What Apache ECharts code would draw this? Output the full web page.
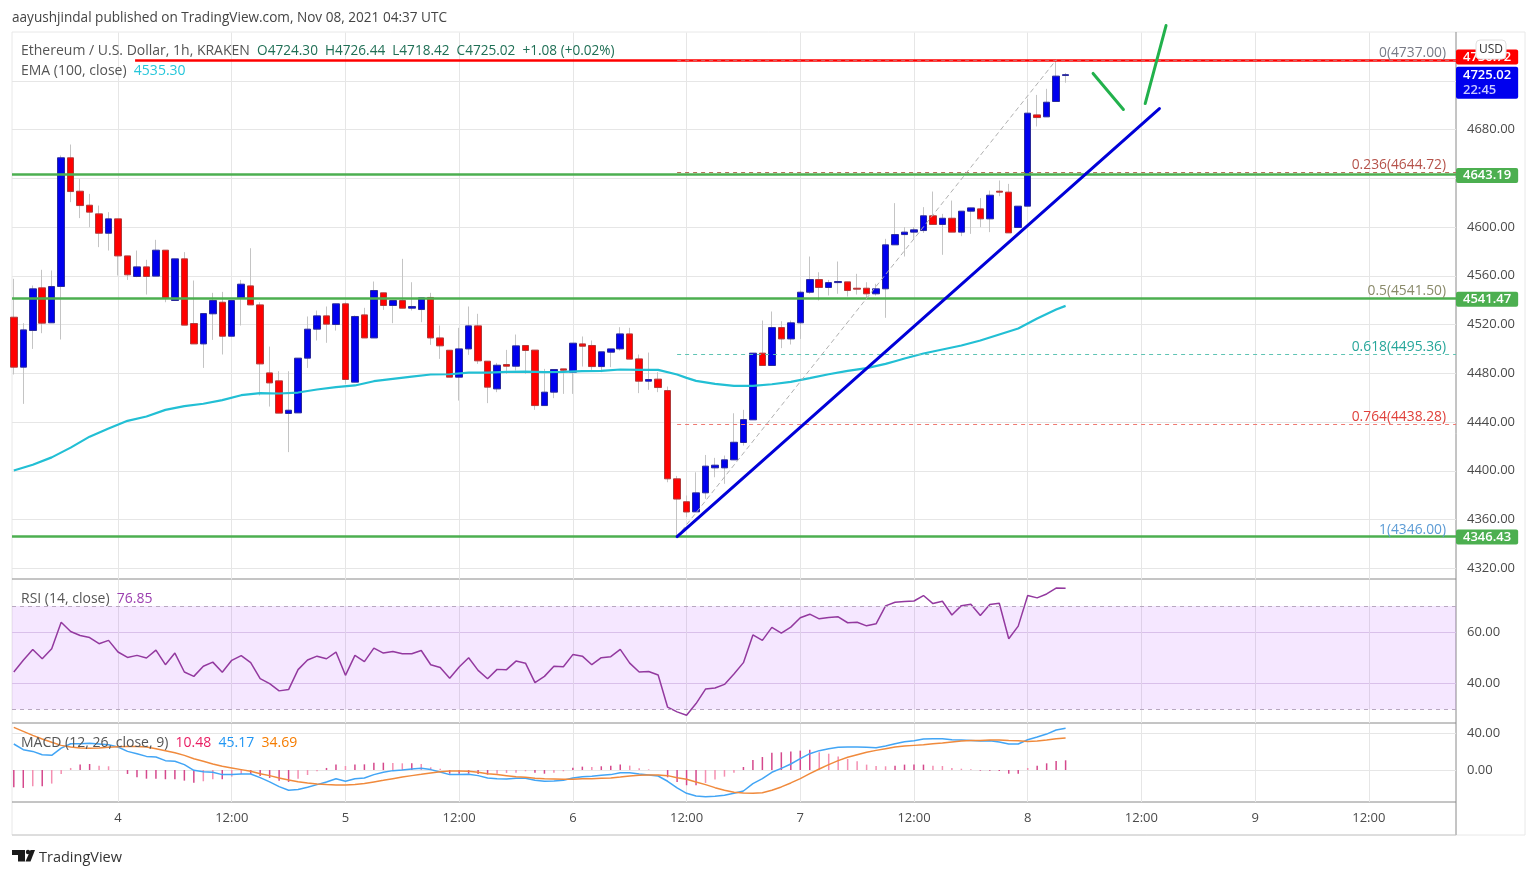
<!DOCTYPE html>
<html>
<head>
<meta charset="utf-8">
<title>ETH/USD</title>
<script src="https://cdn.jsdelivr.net/npm/echarts@6/dist/echarts.min.js"></script>
<style>
  html, body { margin: 0; padding: 0; background: #fff; }
  #chart { width: 1536px; height: 877px; }
</style>
</head>
<body>
<div id="chart"></div>
<script>
// hourly candles, index 0 = Nov 3 13:00 UTC
const candleOpen = [4526,4485,4515.1,4550.1,4521.4,4551.2,4656.8,4629.4,4617.9,4610.8,4594.9,4606.7,4576.3,4559.4,4567.3,4559.7,4581,4539.7,4573.9,4520.8,4504.1,4528.8,4538.3,4510.4,4541.6,4551.7,4536.1,4480.3,4473.8,4447,4447.5,4492.4,4516.2,4527.1,4520,4537,4472.7,4527.9,4509,4546,4535.6,4539.7,4533.4,4532.3,4542.2,4509,4498.9,4476.8,4500,4518.9,4489.9,4467.2,4487.2,4485.8,4502.8,4499,4453.5,4464.5,4483.6,4480.9,4504.1,4502.8,4485.5,4497.3,4500,4512.3,4491.8,4473.5,4475.2,4465.8,4393.4,4374.6,4366.3,4381.9,4402.4,4402.4,4409,4423.2,4441.8,4496.5,4486.4,4517.5,4508.2,4521.4,4546.5,4556.9,4550.4,4554.4,4555,4549.8,4549.8,4545.2,4549.3,4585.4,4593.8,4595.8,4597.1,4609.2,4602.1,4607.2,4595.8,4613,4614.9,4606.7,4629.4,4628.6,4599.6,4617.1,4692,4690.4,4703,4724.3];
const candleClose = [4485,4515.6,4549.3,4521.1,4551.2,4656.8,4629.1,4617.6,4612.2,4594.9,4606.7,4576.3,4560.8,4567.3,4559.4,4581,4541.6,4573.9,4519.5,4504.1,4529,4539.7,4510.4,4539.7,4553.1,4536.1,4487.7,4472.1,4447.3,4449.7,4492.4,4516.2,4527.1,4520.3,4537,4474.9,4526.6,4509,4547.9,4535.6,4539.7,4533.4,4534.8,4541.9,4509,4502.5,4476.8,4500,4518.9,4490.2,4468.6,4486.6,4485.8,4502.5,4498.7,4453.5,4464.5,4483.1,4482.5,4504.7,4502.2,4485.5,4497.6,4500,4512.3,4491.6,4473.5,4474.9,4468.3,4393.4,4376.8,4366.2,4381.9,4403.8,4404.6,4409,4423.4,4442,4496.5,4486.4,4517.5,4508.2,4521.4,4546.5,4556.9,4550.4,4554.4,4555.3,4547.9,4549,4545.2,4549.3,4585.4,4593.8,4595.8,4597.7,4609.2,4602.1,4607.2,4595.8,4613,4615.7,4606.7,4626.1,4628.6,4595.2,4617.1,4693.4,4689.8,4702.4,4723.8,4725.02];
const candleLow = [4479,4454.9,4500,4512.9,4521.4,4507.7,4620.4,4607.3,4599.9,4583.5,4580.7,4560.2,4556.6,4558.8,4544.6,4559.7,4538.3,4539.7,4519.5,4504.1,4484.4,4507.4,4495.4,4510.4,4519.2,4536.1,4461.8,4452.7,4447.3,4415.3,4447.5,4484.4,4506.9,4505,4515,4471.3,4472.7,4509,4509,4532,4521.1,4533.4,4531.5,4521.9,4503.3,4491.8,4476.8,4457.6,4495.1,4487.7,4455.5,4464.5,4479.5,4482.3,4479.5,4450,4453.5,4459.6,4463.1,4463.1,4485.5,4482.8,4480.9,4485,4498.7,4491.6,4463.7,4466.4,4464.5,4390.6,4346,4362,4366.3,4377,4394.7,4389.3,4409,4420.7,4441.8,4486.4,4486.4,4500.6,4503.6,4508.2,4545.2,4539.7,4543.8,4545.2,4543,4544.6,4541,4543.8,4525.5,4585.4,4575.8,4590.3,4595.2,4602.1,4577.2,4595.8,4592.5,4594.4,4599.9,4595.8,4625.3,4595.2,4599.6,4617.1,4682.5,4690.4,4703,4718.42];
const candleHigh = [4557.5,4521.1,4552,4564.9,4564.3,4658.7,4667.7,4639.5,4627.2,4617.6,4612.2,4606.7,4576.3,4580.7,4573.1,4589.5,4581,4573.9,4579.4,4556.1,4529,4546,4546.8,4539.7,4556.6,4582.6,4538.3,4501.9,4481.7,4481.7,4492.4,4526.6,4531.5,4534.8,4537,4538.3,4527.4,4533.7,4555.3,4546,4539.7,4573.9,4554.7,4541.9,4546,4519.2,4498.9,4517.3,4534.8,4528.8,4489.9,4488.5,4499.2,4511.8,4502.8,4499,4483.6,4483.1,4483.6,4504.7,4510.2,4506.9,4497.6,4500,4517.8,4517.3,4495.4,4497,4480.9,4469.1,4395.8,4379.7,4398.8,4413,4410.6,4412.5,4447.2,4450,4496.5,4523.3,4530.7,4522.7,4523.3,4547.9,4575.8,4562.9,4556.6,4571.7,4555,4561.6,4554.7,4553.4,4590.3,4619.6,4599.9,4599.9,4616.3,4629.1,4610.8,4621.7,4613,4615.7,4623.7,4629.9,4638.2,4635.4,4617.1,4705.2,4708.4,4713.4,4737,4726.44];

const emaHours = [0,2,4,6,8,10,12,14,16,18,20,22,24,26,28,30,32,34,36,38,40,42,44,46,48,50,52,54,56,58,60,62,64,66,68,70,71,72,74,76,78,80,82,84,86,88,90,92,93,94,96,98,100,102,104,106,108,110,111];
const emaValues = [4400.2,4405,4411,4419,4428,4434.7,4441,4444.5,4450,4453,4455,4458,4462,4463.7,4463.4,4464.2,4466.7,4468.6,4470,4473.5,4475.4,4477.3,4479,4479.2,4480.6,4480.6,4481.2,4481.4,4480.9,4481.2,4481.7,4482,4483.1,4482.8,4482.8,4479,4476.2,4473.8,4471.3,4469.7,4469.7,4471,4473,4476,4479.2,4482,4484.2,4487.7,4489.9,4492.1,4496.2,4499.5,4502.8,4506.9,4511.8,4516.7,4524.9,4532.3,4535.3];

const rsiValues = [44.5,49,53.2,49.6,53.5,63.7,60.1,58.6,57.8,55.4,56.7,52.2,50.1,50.9,49.9,52.9,47.3,51.8,44.5,42.8,46.7,48.3,44.4,49,50.8,48.1,41.9,40,37.2,37.7,45.4,49.1,50.6,49.6,52.2,43.2,50.9,48.5,53.7,51.8,52.4,51.5,51.5,52.8,47.3,46.2,42.1,46.4,50,45.1,41.9,45.5,45.4,48.7,47.9,40.4,42.8,46.7,46.5,51.2,50.6,47.3,50,50.4,53.2,47.9,44.5,44.7,43.3,30.9,29.1,27.8,32.3,37.9,38.3,39.7,43.7,48.1,58.8,56.7,61.7,59.5,61.8,65.4,66.8,65,65.5,65.8,63.5,63.7,62.3,63.1,70,71.4,71.7,71.9,74,70.9,71.8,66.5,70.1,70.6,66.3,70.5,71,57.3,62.2,74,73.1,74.6,76.9,76.85];

const macdHist = [-18.7,-19.4,-17.6,-17.6,-14.7,-4.3,2.2,5.8,6.5,4.7,4,-0.4,-4.3,-7.9,-9.4,-9.4,-10,-10,-11.5,-13.7,-12.2,-10,-10,-7.2,-4.3,-4.3,-6.5,-8.6,-11.5,-12.9,-9.4,-5.4,-1.4,2.2,5.8,4.3,5.8,6.1,7.9,7.9,7.6,7.2,7.2,6.5,2.9,1.4,-4,-4,-4,-4.3,-5,-4,-3.2,-2.9,-1.4,-2.9,-4,-2.9,-1.4,2.5,3.6,3.2,4,4.7,5.8,4.7,1.8,0.7,0,-7.9,-12.9,-16.5,-16.5,-14,-10.4,-7.2,-2.9,3.2,10.8,14,18.7,19.1,20.1,20.9,21.9,19.1,17.6,14.7,11.9,9.4,5.8,4.3,4,4.7,5.8,5.8,5.8,4.7,4.3,2.2,1.4,0.7,-0.7,-0.7,-1.1,-4,-4,2.2,4.7,7.2,9.7,10.48];
const macdLine = [28.1,21.9,20.1,16.5,15.8,23.7,28.4,28.4,28.8,28.1,27.3,24.8,20.1,17.6,14.7,14,10.1,9.4,5.8,-0.4,-1.8,-2.5,-5,-5,-4.3,-4.3,-8.3,-12.9,-18,-21.9,-21.2,-18.7,-15.8,-12.9,-9.4,-12.2,-9.4,-8.6,-5,-2.5,-0.7,0,1.1,1.8,0.4,-2.2,-5,-5,-4.7,-6.1,-8.6,-9.4,-9.7,-9,-9,-11,-12.2,-11.9,-11.2,-8.6,-7.2,-6.8,-5.8,-5,-2.9,-2.9,-4.3,-5.4,-6.5,-12.2,-19.4,-25.2,-28.1,-28.8,-28.4,-27.3,-25.2,-22.7,-14.7,-9.4,-2.5,1.8,6.5,12.2,17.6,20.9,23,24.5,24.8,24.8,24.5,24.1,25.9,28.4,30.6,31.7,33.5,33.8,33.8,32.7,32.4,32,31.3,31.7,30.2,28.1,28.1,32.7,35.6,38.8,43.2,45.17];
const macdSignal = [46,41.7,37.4,33.5,29.9,26.6,24.8,23.7,23.4,23.7,24.5,25.2,25.5,25.5,24.8,23,20.9,18.7,15.8,12.2,9.4,6.5,4,2.2,0.4,-1.4,-4,-6.1,-8.6,-10.8,-12.6,-14,-15.1,-15.8,-16.2,-16.2,-15.8,-14.7,-12.9,-11.2,-9.4,-7.6,-6.1,-4.7,-3.2,-1.8,-1.1,-1.1,-1.4,-2.5,-4,-5,-6.1,-7.2,-7.9,-9,-9.4,-9.7,-10.1,-10.1,-9.4,-9.4,-9,-8.6,-7.6,-6.5,-5.8,-5.4,-5.4,-6.1,-8.3,-10.1,-12.9,-15.8,-19.1,-21.9,-24.1,-24.8,-25.2,-24.5,-21.9,-18.3,-14,-9.4,-4,1.1,5.8,10.1,13.7,16.5,19.1,21.2,23,24.8,25.9,26.6,27.3,28.4,29.1,30.2,31.3,32,32,32.4,32.4,32,31.7,30.9,31.3,32.4,33.8,34.69];

const fibRatios = ['0','0.236','0.5','0.618','0.764','1'];
const fibPrices = [4737,4644.72,4541.5,4495.36,4438.28,4346];
const fibTextColors = ['#787b86','#b5524a','#8a8a6a','#26a69a','#e0403a','#5b9bd5'];
// 0.5 and 1 sit under the green levels in the picture, no dashes show there
const fibLineColors = ['#d86060','#b5725a','#4caf50','#60c4b4','#ee7a72','#4caf50'];

const levelPrices = [4643.19,4541.47,4346.43];
const timeTicks = [11,23,35,47,59,71,83,95,107,119,131,143];
const timeLabels = ['4','12:00','5','12:00','6','12:00','7','12:00','8','12:00','9','12:00'];
const priceTicks = [4320,4360,4400,4440,4480,4520,4560,4600,4640,4680,4720];
const priceLabels = [4320,4360,4400,4440,4480,4520,4560,4600,4680];

const trendLine = [[70,4346],[120.9,4697.2]];
const fibDiagonal = [[70,4346],[110,4737]];
const forecastDown = [[113.9,4726],[117.1,4696.4]];
const forecastUp = [[119.4,4701.3],[121.6,4765.3]];

const hours = candleOpen.map((_, i) => i);
const xMin = -0.19, xMax = 152.2;
const font = '"Open Sans", "Noto Sans", sans-serif';

var chart = echarts.init(document.getElementById('chart'), null, { renderer: 'canvas' });

function timeAxis(gridIndex, showLabels) {
  return {
    type: 'value', gridIndex: gridIndex, min: xMin, max: xMax,
    axisLine: { show: false },
    axisTick: { show: false, customValues: timeTicks },
    axisLabel: {
      show: showLabels, customValues: timeTicks, margin: 10, color: '#4a4a4a', fontSize: 13, fontFamily: font,
      formatter: v => timeLabels[timeTicks.indexOf(v)]
    },
    splitLine: { show: true, lineStyle: { color: '#e6e6e6', width: 1 } }
  };
}

function sideAxis(gridIndex, min, max, ticks, labels, gridColor) {
  return {
    type: 'value', gridIndex: gridIndex, position: 'right', min: min, max: max, scale: true,
    axisLine: { show: false },
    axisTick: { show: false, customValues: ticks },
    axisLabel: {
      customValues: labels, margin: 11, color: '#4a4a4a', fontSize: 13, fontFamily: font, padding: [7, 0, 0, 0],
      formatter: v => v.toFixed(2)
    },
    splitLine: { show: true, lineStyle: { color: gridColor, width: 1 } }
  };
}

function levelTag(price, color, text, startX, shift) {
  return [
    {
      coord: [startX, price],
      lineStyle: { color: color, width: 2.5, type: 'solid' },
      label: {
        show: true, position: 'end', distance: 0, offset: [0, shift], formatter: text, color: '#fff', fontSize: 13, fontWeight: 600,
        fontFamily: font, backgroundColor: color, padding: [1, 7, 1, 7], borderRadius: 2
      }
    },
    { coord: [xMax, price] }
  ];
}

function plainLine(name, points, color, width, type) {
  return {
    name: name, type: 'line', xAxisIndex: 0, yAxisIndex: 0, data: points, clip: false, symbol: 'none',
    lineStyle: { color: color, width: width, type: type || 'solid', cap: 'round' }, z: 6
  };
}

function legendText(color, size) {
  return { color: color, fontSize: size || 14, fontWeight: 400, fontFamily: font };
}

var option = {
  animation: false,
  backgroundColor: '#fff',
  textStyle: { fontFamily: font },
  title: [
    {
      left: 7, top: 6, text: 'aayushjindal published on TradingView.com, Nov 08, 2021 04:37 UTC',
      textStyle: { color: '#444', fontSize: 13.6, fontWeight: 400, fontFamily: font }
    },
    {
      left: 16, top: 39, text: '{a|Ethereum / U.S. Dollar, 1h, KRAKEN}  {b|O4724.30  H4726.44  L4718.42  C4725.02  +1.08 (+0.02%)}',
      textStyle: { fontSize: 14, fontWeight: 400, rich: { a: legendText('#555'), b: legendText('#1f6f55', 13.6) } }
    },
    {
      left: 16, top: 59, text: '{a|EMA (100, close)}  {b|4535.30}',
      textStyle: { fontSize: 14, fontWeight: 400, rich: { a: legendText('#555'), b: legendText('#26c6da') } }
    },
    {
      left: 16, top: 587, text: '{a|RSI (14, close)}  {b|76.85}',
      textStyle: { fontSize: 14, fontWeight: 400, rich: { a: legendText('#555'), b: legendText('#9c3fb0') } }
    },
    {
      left: 16, top: 731, text: '{a|MACD (12, 26, close, 9)}  {b|10.48}  {c|45.17}  {d|34.69}',
      textStyle: { fontSize: 14, fontWeight: 400, rich: {
        a: legendText('#555'), b: legendText('#e91e63'), c: legendText('#2196f3'), d: legendText('#f57c00')
      } }
    },
    {
      left: 34, top: 845, text: 'TradingView',
      textStyle: { color: '#333', fontSize: 14.5, fontWeight: 400, fontFamily: font }
    }
  ],
  grid: [
    { left: 12, width: 1444, top: 32.5, height: 547 },
    { left: 12, width: 1444, top: 580, height: 143 },
    { left: 12, width: 1444, top: 724, height: 78 }
  ],
  xAxis: [timeAxis(0, false), timeAxis(1, false), timeAxis(2, true)],
  yAxis: [
    sideAxis(0, 4310.8, 4759.6, priceTicks, priceLabels, '#e6e6e6'),
    sideAxis(1, 24.8, 80, [40, 60], [40, 60], '#e0d4e8'),
    sideAxis(2, -34.6, 49.7, [0, 40], [0, 40], '#e6e6e6')
  ],
  graphic: [
    // pane frame and separators
    { type: 'rect', shape: { x: 12, y: 32, width: 1513, height: 803 }, style: { fill: 'none', stroke: '#e8e8e8' }, silent: true },
    { type: 'line', shape: { x1: 1456, y1: 32, x2: 1456, y2: 835 }, style: { stroke: '#8a8a8a' }, silent: true },
    { type: 'line', shape: { x1: 12, y1: 579, x2: 1456, y2: 579 }, style: { stroke: '#8a8a8a' }, silent: true },
    { type: 'line', shape: { x1: 12, y1: 723, x2: 1456, y2: 723 }, style: { stroke: '#8a8a8a' }, silent: true },
    { type: 'line', shape: { x1: 12, y1: 802, x2: 1456, y2: 802 }, style: { stroke: '#8a8a8a' }, silent: true },
    { type: 'line', shape: { x1: 12, y1: 835, x2: 1456, y2: 835 }, style: { stroke: '#c8c8c8' }, silent: true },
    // currency button
    {
      type: 'rect', z: 20, shape: { x: 1476, y: 40, width: 30, height: 19, r: 4 },
      style: { fill: '#fff', stroke: '#e0e0e0' }, silent: true
    },
    {
      type: 'text', z: 21, style: { x: 1491, y: 50, text: 'USD', fill: '#333', font: '12px ' + font, textAlign: 'center', textVerticalAlign: 'middle' }, silent: true
    },
    // logo
    { type: 'polygon', z: 5, shape: { points: [[12, 850], [25, 850], [25, 861.5], [18, 861.5], [18, 855], [12, 855]] }, style: { fill: '#1a1a1a' }, silent: true },
    { type: 'circle', z: 5, shape: { cx: 28, cy: 852, r: 2.2 }, style: { fill: '#1a1a1a' }, silent: true },
    { type: 'polygon', z: 5, shape: { points: [[30.5, 850], [35, 850], [30.5, 861.5], [25.5, 861.5]] }, style: { fill: '#1a1a1a' }, silent: true }
  ],
  series: [
    {
      name: 'Wicks', type: 'candlestick', xAxisIndex: 0, yAxisIndex: 0, barWidth: 1, z: 2,
      encode: { x: 0, y: [1, 2, 3, 4] },
      data: hours.map(i => [i, candleOpen[i], candleClose[i], candleLow[i], candleHigh[i]]),
      itemStyle: { color: '#c4c4c4', color0: '#c4c4c4', borderColor: '#c4c4c4', borderColor0: '#c4c4c4', borderWidth: 1 }
    },
    {
      name: 'Bodies', type: 'candlestick', xAxisIndex: 0, yAxisIndex: 0, barWidth: 7, z: 3,
      encode: { x: 0, y: [1, 2, 3, 4] },
      data: hours.map(i => [i, candleOpen[i], candleClose[i],
        Math.min(candleOpen[i], candleClose[i]), Math.max(candleOpen[i], candleClose[i])]),
      itemStyle: { color: '#0000ee', color0: '#ff0000', borderColor: '#2a2a9a', borderColor0: '#b03a3a', borderWidth: 1 }
    },
    {
      name: 'EMA', type: 'line', xAxisIndex: 0, yAxisIndex: 0, symbol: 'none', z: 4,
      data: emaHours.map((h, i) => [h, emaValues[i]]),
      lineStyle: { color: '#22bfd4', width: 2.2 }
    },
    plainLine('Fib diagonal', fibDiagonal, '#b0b0b0', 1, [4, 4]),
    {
      name: 'Levels', type: 'line', xAxisIndex: 0, yAxisIndex: 0, symbol: 'none', z: 6, data: [],
      markLine: {
        silent: true, symbol: 'none', animation: false,
        data: levelPrices.map(p => levelTag(p, '#4caf50', p.toFixed(2), xMin, 1))
          .concat([levelTag(4737, '#ff0000', '4736.72', 12.8, -3)])
      }
    },
    {
      name: 'Fib', type: 'line', xAxisIndex: 0, yAxisIndex: 0, symbol: 'none', z: 7, data: [],
      markLine: {
        silent: true, symbol: 'none', animation: false,
        data: fibPrices.map((p, i) => [
          {
            coord: [70, p],
            lineStyle: { color: fibLineColors[i], width: 1, type: [4, 4] },
            label: {
              show: true, position: 'insideEndTop', distance: [10, 0], color: fibTextColors[i], fontSize: 13.8, fontFamily: font,
              formatter: fibRatios[i] + '(' + p.toFixed(2) + ')'
            }
          },
          { coord: [xMax, p] }
        ])
      }
    },
    {
      name: 'Last price', type: 'line', xAxisIndex: 0, yAxisIndex: 0, symbol: 'none', z: 8, data: [],
      markLine: {
        silent: true, symbol: 'none', animation: false,
        data: [[
          {
            coord: [111, candleClose[111]],
            lineStyle: { color: 'transparent' },
            label: {
              show: true, position: 'end', distance: 0, offset: [0, 8], color: '#fff', fontSize: 13, fontWeight: 600, fontFamily: font,
              lineHeight: 15, backgroundColor: '#0000ee', padding: [1, 7, 1, 7], borderRadius: 2,
              formatter: candleClose[111].toFixed(2) + '\n{t|22:45}',
              rich: { t: { color: '#c8c8ff', fontSize: 13, fontFamily: font, lineHeight: 15 } }
            }
          },
          { coord: [xMax, candleClose[111]] }
        ]]
      }
    },
    plainLine('Trend', trendLine, '#0000d8', 3),
    plainLine('Forecast down', forecastDown, '#22b14c', 3),
    plainLine('Forecast up', forecastUp, '#22b14c', 3),
    {
      name: 'RSI', type: 'line', xAxisIndex: 1, yAxisIndex: 1, symbol: 'none', z: 4, clip: false,
      data: hours.map(i => [i, rsiValues[i]]),
      lineStyle: { color: '#93399f', width: 1.5 },
      markArea: {
        silent: true, itemStyle: { color: 'rgba(153,21,255,0.1)' },
        data: [[{ yAxis: 70 }, { yAxis: 30 }]]
      },
      markLine: {
        silent: true, symbol: 'none', label: { show: false },
        lineStyle: { color: '#b8a8c0', width: 1, type: [4, 4] },
        data: [{ yAxis: 70 }, { yAxis: 30 }]
      }
    },
    {
      name: 'Histogram', type: 'bar', xAxisIndex: 2, yAxisIndex: 2, barWidth: 1.5, z: 2,
      data: hours.map(i => ({
        value: [i, macdHist[i]],
        itemStyle: { color: Math.abs(macdHist[i]) >= Math.abs(macdHist[i - 1] || 0) ? '#d5488c' : '#f48fb1' }
      }))
    },
    {
      name: 'MACD', type: 'line', xAxisIndex: 2, yAxisIndex: 2, symbol: 'none', z: 3,
      data: hours.map(i => [i, macdLine[i]]), lineStyle: { color: '#42a5f5', width: 1.5 }
    },
    {
      name: 'Signal', type: 'line', xAxisIndex: 2, yAxisIndex: 2, symbol: 'none', z: 4,
      data: hours.map(i => [i, macdSignal[i]]), lineStyle: { color: '#f08a3c', width: 1.5 }
    }
  ]
};

chart.setOption(option);
window.addEventListener('resize', function () { chart.resize(); });
</script>
</body>
</html>
